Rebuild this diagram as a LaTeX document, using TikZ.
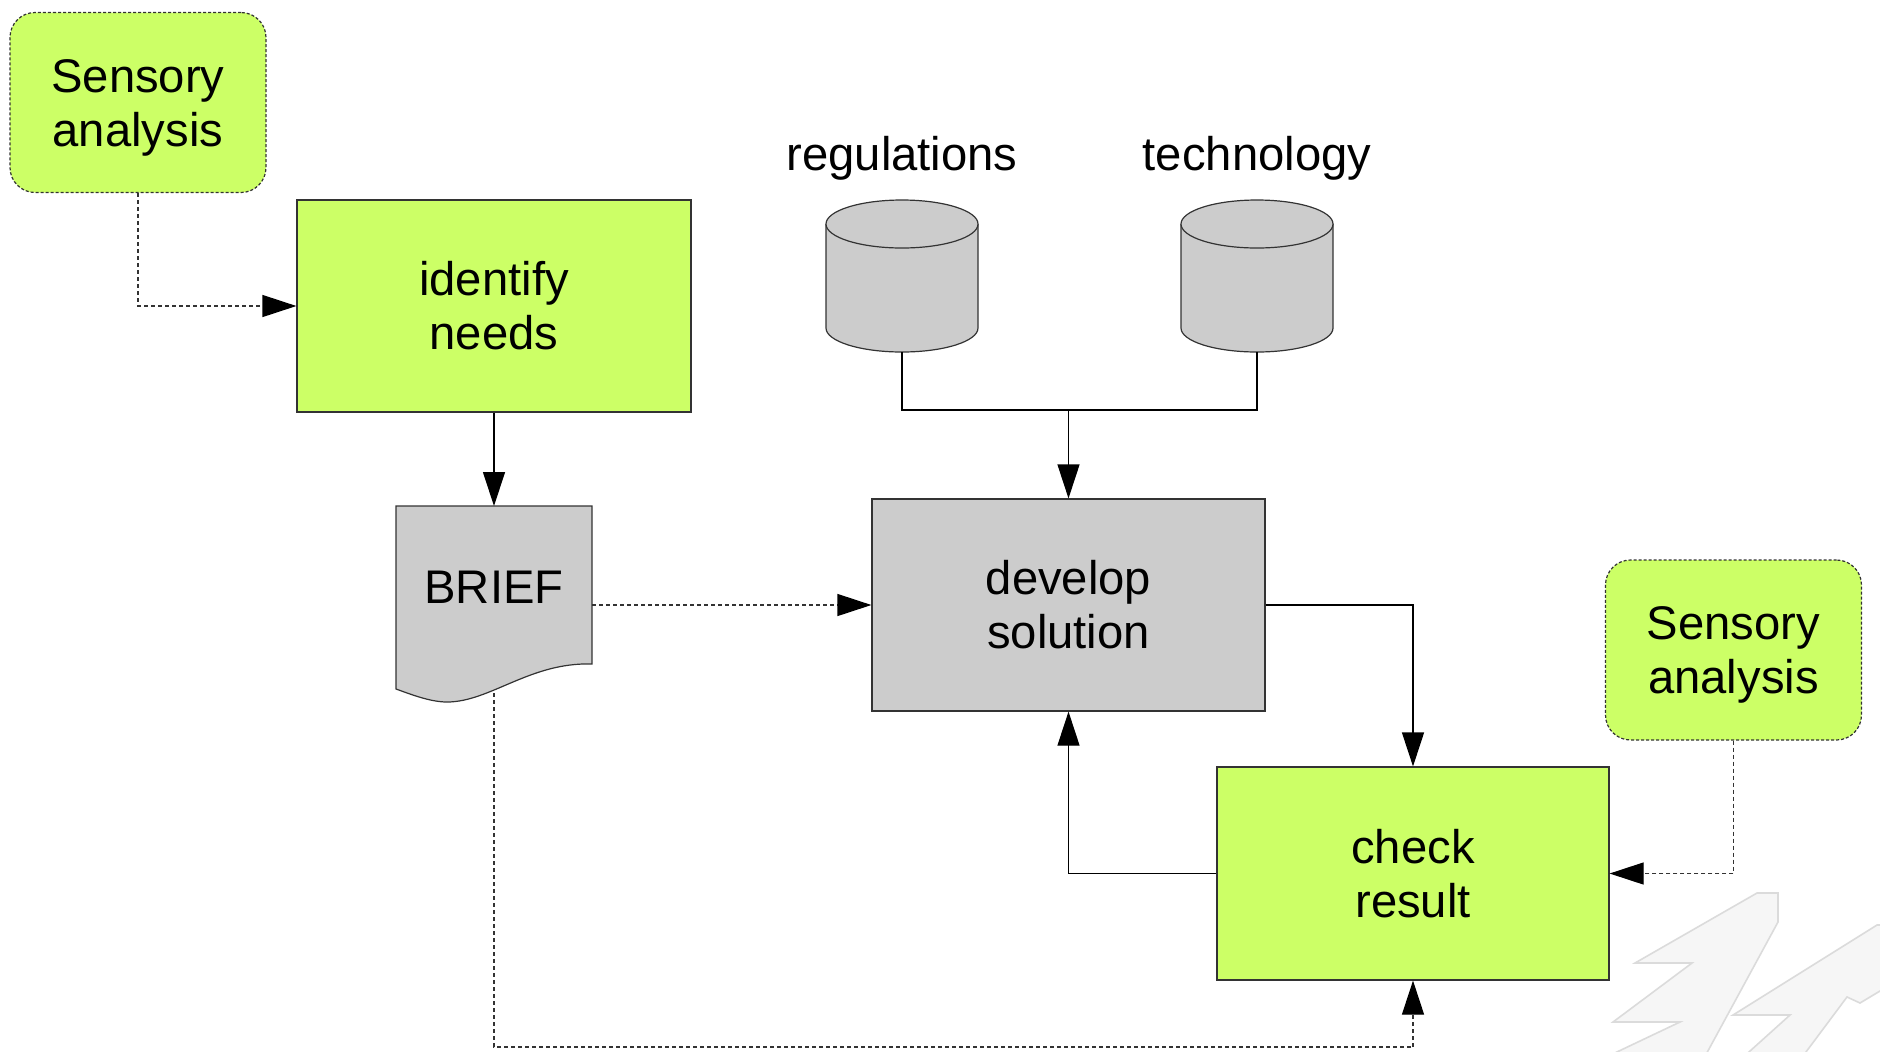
\documentclass[tikz,border=0pt]{standalone}
\usepackage{fontspec}
\setmainfont{Liberation Sans}
\usetikzlibrary{arrows.meta}
\definecolor{lime}{HTML}{CCFF66}
\definecolor{boxgray}{HTML}{CCCCCC}
\definecolor{edgegray}{HTML}{333333}

\begin{document}
\begin{tikzpicture}[x=0.5pt,y=-0.5pt,
  font=\fontsize{23.6}{27}\selectfont,
  procbox/.style={draw=edgegray, line width=0.6pt, align=center, inner sep=0pt},
  greenbox/.style={procbox, fill=lime},
  graybox/.style={procbox, fill=boxgray},
  sensebox/.style={greenbox, dash pattern=on 1.5pt off 1pt, rounded corners=12.5pt,
    minimum width=128pt, minimum height=90pt},
  boxtext/.style={align=center, inner sep=0pt},
  flow/.style={line width=0.6pt, draw=black, -{Triangle[length=17pt,width=11pt,color=black]}},
  link/.style={line width=0.6pt, draw=black},
  dashflow/.style={flow, draw=black!80, dash pattern=on 2pt off 1.5pt},
  dashlink/.style={link, draw=black!80, dash pattern=on 2pt off 1.5pt},
  cylfill/.style={fill=boxgray, draw=edgegray, line width=0.6pt},
  logoshape/.style={fill=gray!7, draw=gray!28, line width=0.8pt}
]
\useasboundingbox (0,0) rectangle (1880,1051);

% faint logo in the lower right corner
\begin{scope}
  \clip (0,0) rectangle (1880,1051);
  \path[logoshape] (1757,893) -- (1778,893) -- (1778,922) -- (1703,1060) -- (1600,1060)
    -- (1680,1022) -- (1613,1022) -- (1692,963) -- (1635,963) -- cycle;
  \path[logoshape] (1877,925) -- (1890,925) -- (1890,985) -- (1860,1003) -- (1847,997)
    -- (1800,1060) -- (1740,1060) -- (1790,1015) -- (1733,1015) -- cycle;
\end{scope}

% process boxes
\node[sensebox] (sa1) at (138,102.5) {};
\node[boxtext] (sa1text) at (138,107.5) {Sensory\\analysis};
\node[greenbox, minimum width=197pt, minimum height=106pt] (idn) at (494,306) {identify\\needs};
\node[graybox, minimum width=196.5pt, minimum height=106pt] (dev) at (1068.5,605) {develop\\solution};
\node[greenbox, minimum width=196pt, minimum height=106.5pt] (chk) at (1413,873.5) {check\\result};
\node[sensebox] (sa2) at (1733.5,650) {};
\node[boxtext] (sa2text) at (1733.5,655) {Sensory\\analysis};

% data stores
\foreach \cx/\nm in {902/reg, 1257/tech} {
  \path[cylfill] (\cx-76,224) -- (\cx-76,328)
    arc[start angle=180, end angle=0, x radius=76, y radius=24] -- (\cx+76,224);
  \path[cylfill] (\cx,224) ellipse[x radius=76, y radius=24];
  \node[minimum width=76pt, minimum height=76pt, inner sep=0pt] (\nm) at (\cx,276) {};
}
\node (reglabel) at (902,158) {regulations};
\node (techlabel) at (1257,158) {technology};

% document shape
\path[graybox] (396,506) -- (592,506) -- (592,664)
  .. controls (530,662) and (490,702) .. (447,702)
  .. controls (430,702) and (410,694) .. (396,689) -- cycle;
\node (brief) at (494,587) {BRIEF};
\coordinate (brieftop) at (494,506);
\coordinate (briefright) at (592,605);
\coordinate (briefbottom) at (494,693);

% connectors
\coordinate (join) at (1068.5,410);
\coordinate (bottomturn) at (1413,1047);
\draw[dashflow] (sa1.south) |- (idn.west);
\draw[flow] (idn.south) -- (brieftop);
\draw[link] (reg.south) |- (join);
\draw[link] (tech.south) |- (join);
\draw[flow] (join) -- (dev.north);
\draw[dashflow] (briefright) -- (dev.west);
\draw[flow] (dev.east) -| (chk.north);
\draw[flow] (chk.west) -| (dev.south);
\draw[dashflow] (sa2.south) |- (chk.east);
\draw[dashlink] (briefbottom) |- (bottomturn);
\draw[dashflow] (bottomturn) -- (chk.south);
\end{tikzpicture}
\end{document}
